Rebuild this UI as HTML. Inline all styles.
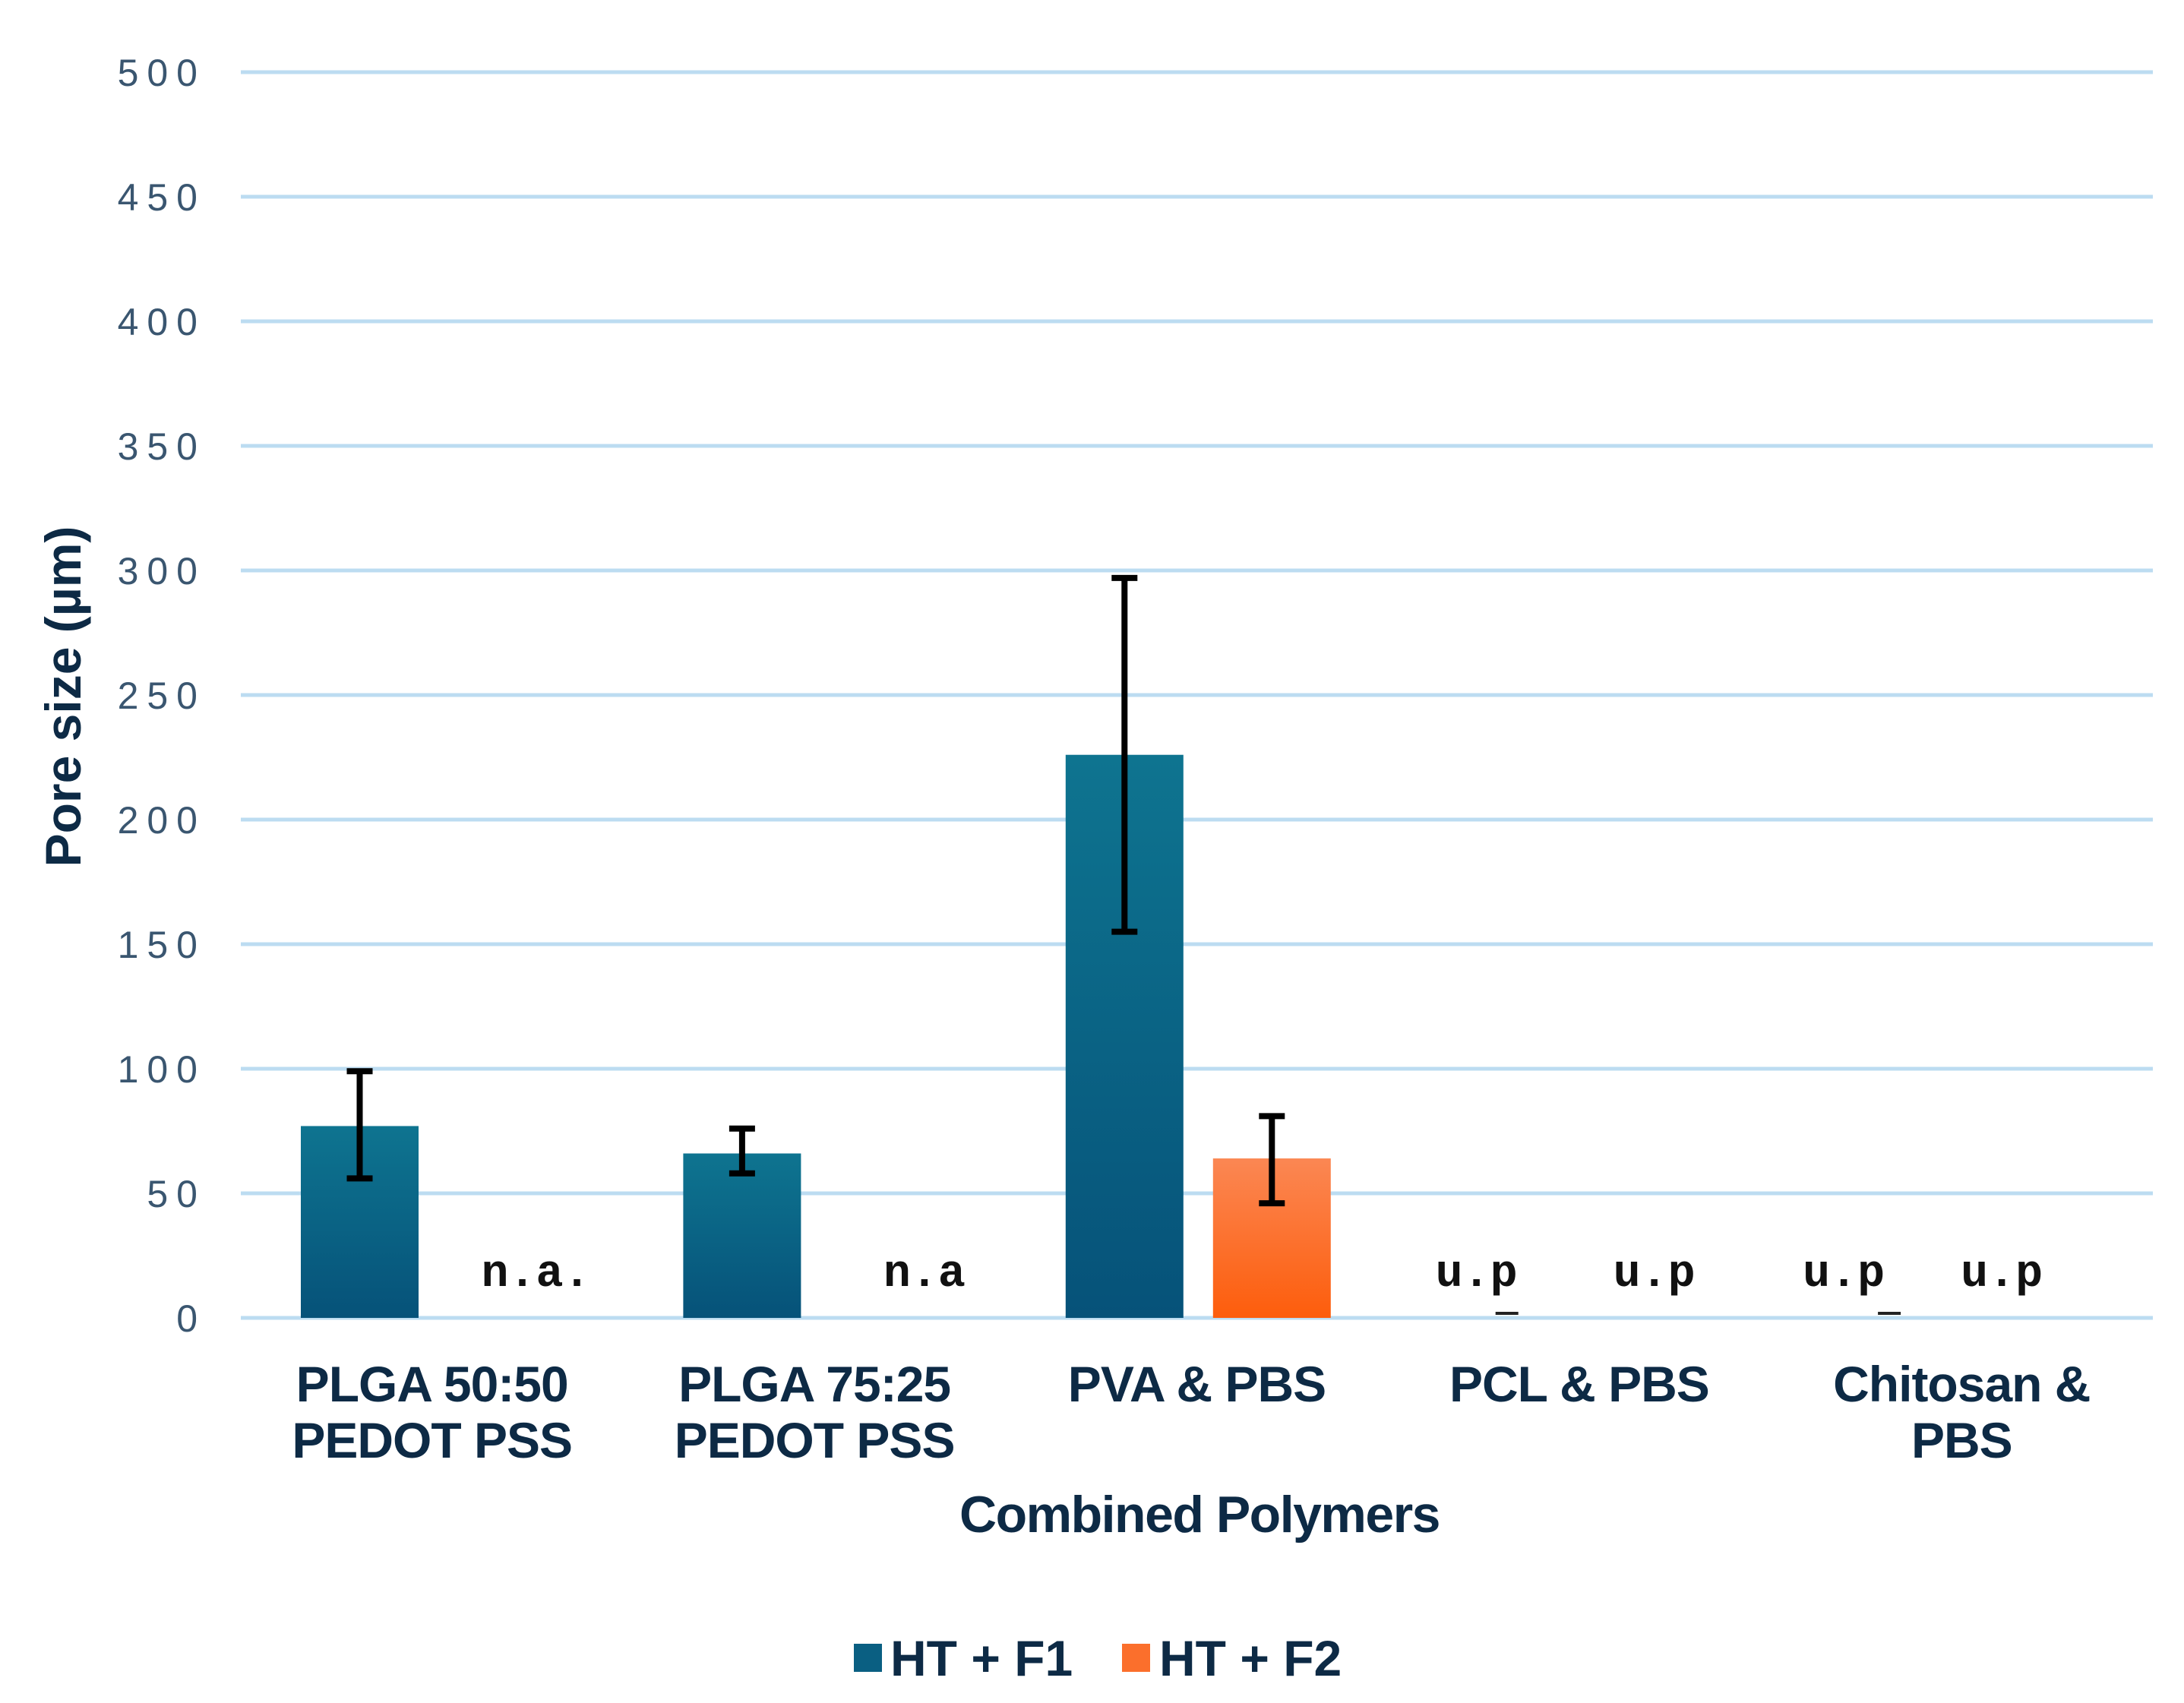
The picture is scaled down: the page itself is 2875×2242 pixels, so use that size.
<!DOCTYPE html>
<html><head><meta charset="utf-8">
<style>
html,body{margin:0;padding:0;background:#fff;}
svg{display:block;}
</style></head>
<body>
<svg id="chart" width="2875" height="2242" viewBox="0 0 2875 2242" xmlns="http://www.w3.org/2000/svg">
<defs>
<linearGradient id="gBlue" x1="0" y1="0" x2="0" y2="1"><stop offset="0" stop-color="#0e7490"/><stop offset="1" stop-color="#065279"/></linearGradient>
<linearGradient id="gOrange" x1="0" y1="0" x2="0" y2="1"><stop offset="0" stop-color="#fb8753"/><stop offset="1" stop-color="#fd5d0c"/></linearGradient>
</defs>
<g id="grid"></g>
<g id="yticks"></g>
<g id="bars"></g>
<g id="errs"></g>
<g id="notes"></g>
<g id="xlabels"></g>
<text x="1579" y="2017" text-anchor="middle" font-family="Liberation Sans, sans-serif" font-weight="bold" font-size="68" letter-spacing="-1.5" fill="#0d2a45">Combined Polymers</text>
<text transform="translate(106,917) rotate(-90)" text-anchor="middle" font-family="Liberation Sans, sans-serif" font-weight="bold" font-size="66" fill="#0d2a45">Pore size (µm)</text>
<g>
<rect x="1124" y="2164" width="37" height="37" fill="#0a5f82"/>
<text x="1172" y="2206" font-family="Liberation Sans, sans-serif" font-weight="bold" font-size="66" letter-spacing="0" fill="#0d2a45">HT + F1</text>
<rect x="1477" y="2164" width="37" height="37" fill="#fb6f2c"/>
<text x="1526" y="2206" font-family="Liberation Sans, sans-serif" font-weight="bold" font-size="66" letter-spacing="0" fill="#0d2a45">HT + F2</text>
</g>
</svg>
<script>
const categories = [["PLGA 50:50","PEDOT PSS"],["PLGA 75:25","PEDOT PSS"],["PVA & PBS"],["PCL & PBS"],["Chitosan &","PBS"]];
const f1Values = [77, 66, 226, 0, 0];
const f1ErrLow = [56, 58, 155, null, null];
const f1ErrHigh = [99, 76, 297, null, null];
const f2Values = [0, 0, 64, 0, 0];
const f2ErrLow = [null, null, 46, null, null];
const f2ErrHigh = [null, null, 81, null, null];
const f1Notes = ["", "", "", "u.p", "u.p"];
const f2Notes = ["n.a.", "n.a", "", "u.p", "u.p"];
const yTicks = [0,50,100,150,200,250,300,350,400,450,500];

const NS="http://www.w3.org/2000/svg";
const left=317,right=2834,y0=1735,y500=95;
const catW=(right-left)/categories.length;
function yS(v){return y0-(v/500)*(y0-y500);}
function xF1(i){return left+i*catW+79;}
function xF2(i){return left+i*catW+273;}
const bw=155;
// layout offsets of annotation labels relative to bar centers
const f1NoteShift=[0,0,0,-40,-60];
const f2NoteShift=[38,46,0,0,-46];
function mk(tag,attrs,parent){const e=document.createElementNS(NS,tag);for(const k in attrs)e.setAttribute(k,attrs[k]);parent.appendChild(e);return e;}
const grid=document.getElementById('grid'),yt=document.getElementById('yticks');
yTicks.forEach(t=>{
  const l=mk('line',{x1:left,x2:right,y1:yS(t),y2:yS(t),stroke:'#bcdcf1','stroke-width':5},grid);
  
  
  const tx=mk('text',{x:271,y:yS(t)+18,'text-anchor':'end','font-family':'Liberation Sans, sans-serif','font-size':50,'letter-spacing':11,fill:'#3a5670'},yt);
  tx.textContent=t;
  
  
});
const bars=document.getElementById('bars'),errs=document.getElementById('errs'),notes=document.getElementById('notes'),xl=document.getElementById('xlabels');
function errBar(cx,lo,hi,name){
  const g=mk('g',{},errs);
  
  
  mk('line',{x1:cx,x2:cx,y1:yS(lo),y2:yS(hi),stroke:'#000','stroke-width':8},g);
  mk('line',{x1:cx-17,x2:cx+17,y1:yS(lo),y2:yS(lo),stroke:'#000','stroke-width':8},g);
  mk('line',{x1:cx-17,x2:cx+17,y1:yS(hi),y2:yS(hi),stroke:'#000','stroke-width':8},g);
}
function note(x,txt,name){
  const t=mk('text',{x:x,y:1693,'text-anchor':'middle','font-family':'Liberation Mono, monospace','font-weight':'bold','font-size':60,fill:'#111'},notes);
  t.textContent=txt;
  
  
}
categories.forEach((c,i)=>{
  if(f1Values[i]>0){
    const r=mk('rect',{x:xF1(i),y:yS(f1Values[i]),width:bw,height:y0-yS(f1Values[i]),fill:'url(#gBlue)'},bars);
    
    
  }
  if(f2Values[i]>0){
    const r=mk('rect',{x:xF2(i),y:yS(f2Values[i]),width:bw,height:y0-yS(f2Values[i]),fill:'url(#gOrange)'},bars);
    
    
  }
  if(f1ErrLow[i]!==null) errBar(xF1(i)+bw/2,f1ErrLow[i],f1ErrHigh[i],'error-bar-ht-f1-'+i);
  if(f2ErrLow[i]!==null) errBar(xF2(i)+bw/2,f2ErrLow[i],f2ErrHigh[i],'error-bar-ht-f2-'+i);
  if(f1Notes[i]){
    note(xF1(i)+bw/2+f1NoteShift[i],f1Notes[i],'note-ht-f1-'+i);
    const d=mk('line',{x1:xF1(i)+bw/2-15,x2:xF1(i)+bw/2+15,y1:1729,y2:1729,stroke:'#222','stroke-width':4},notes);
    
    
  }
  if(f2Notes[i]) note(xF2(i)+bw/2+f2NoteShift[i],f2Notes[i],'note-ht-f2-'+i);
  const cx=left+i*catW+catW/2;
  const t=mk('text',{x:cx,'text-anchor':'middle','font-family':'Liberation Sans, sans-serif','font-weight':'bold','font-size':66,fill:'#0d2a45','letter-spacing':-1},xl);
  
  
  c.forEach((ln,j)=>{const s=mk('tspan',{x:cx,y:1845+j*74},t);s.textContent=ln;});
});
</script>
</body></html>
